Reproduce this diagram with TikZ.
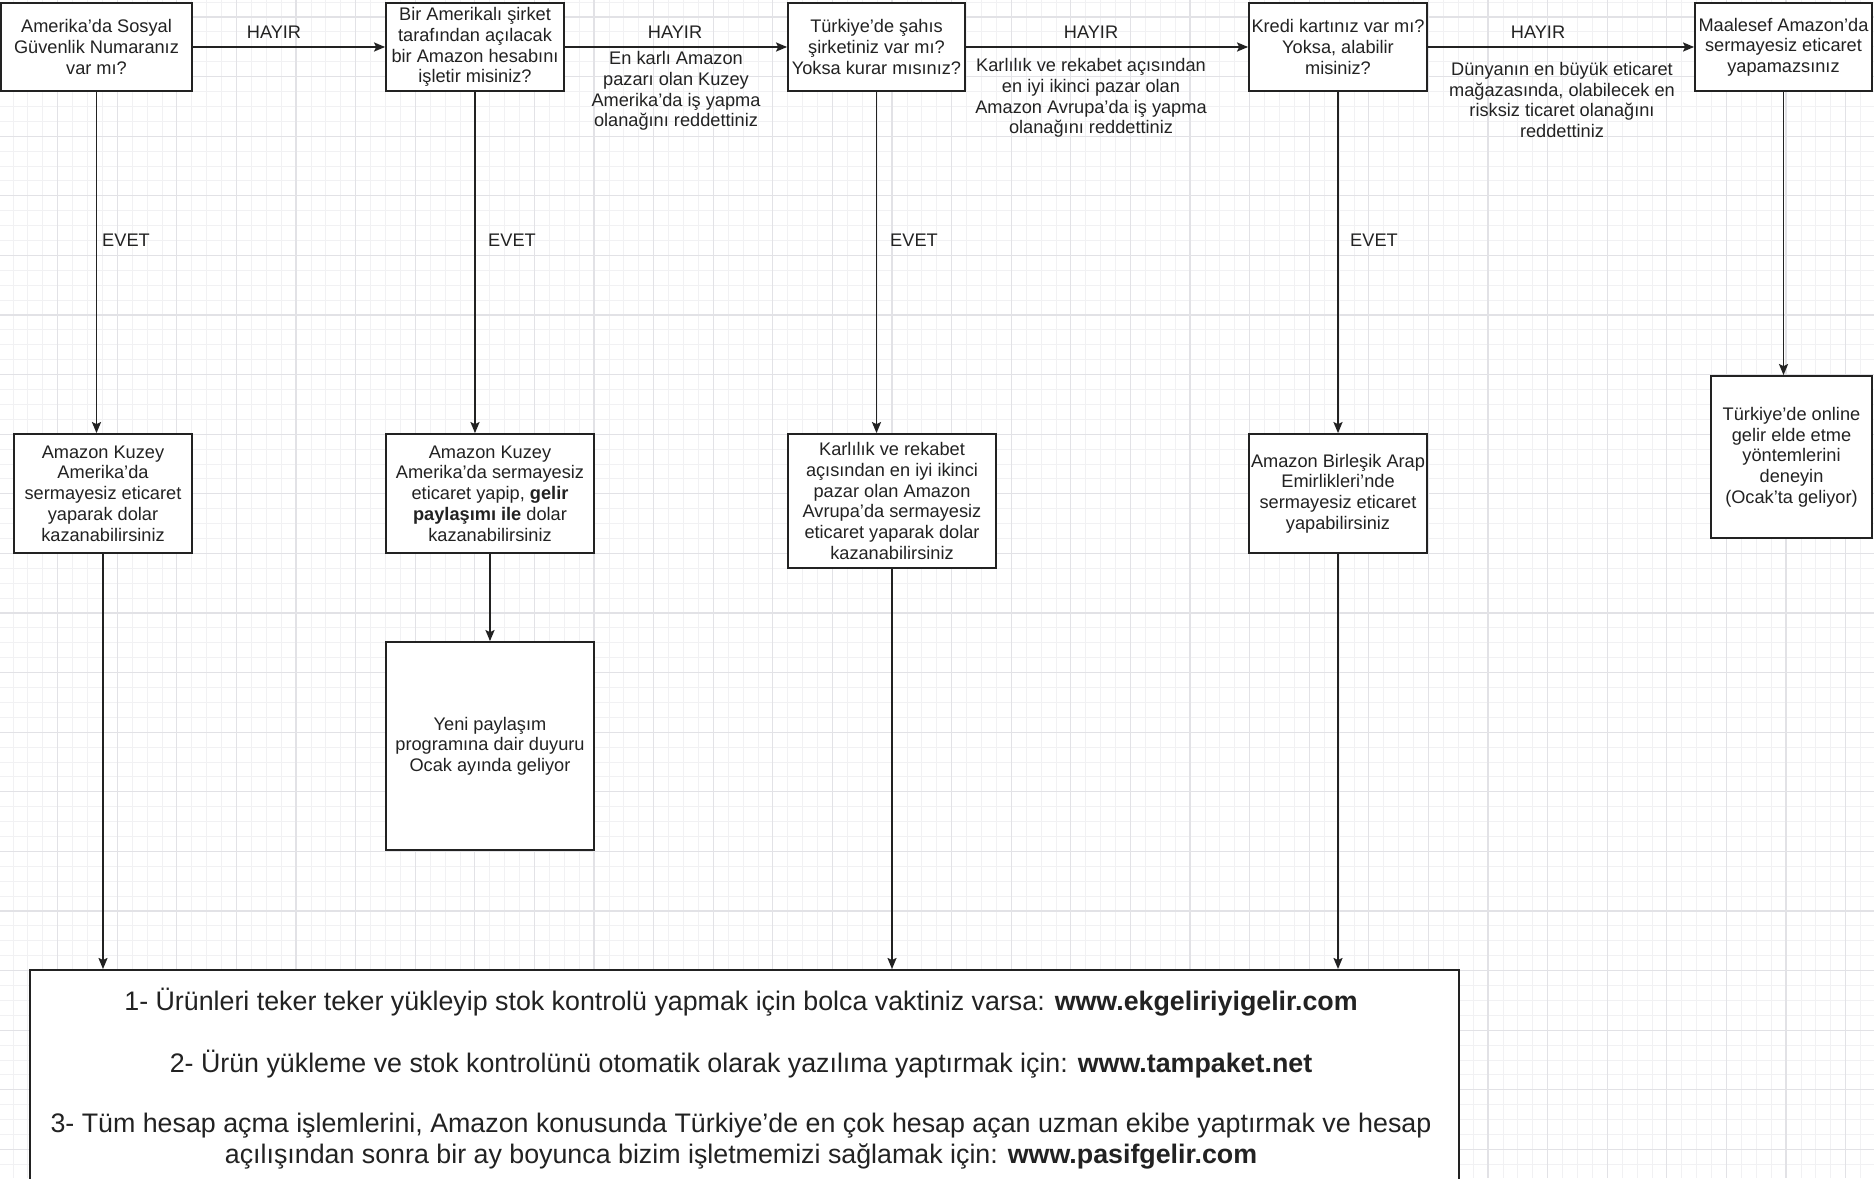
\documentclass[tikz,border=0pt]{standalone}
\usepackage{fontspec}
\setmainfont{Liberation Sans}
\usetikzlibrary{arrows.meta}
\definecolor{ink}{HTML}{222222}
\definecolor{gridmaj}{HTML}{E2E2E6}
\definecolor{gridmin}{HTML}{F1F1F3}
\tikzset{
 box/.style={draw=ink, line width=1.8pt, fill=white, inner sep=0pt, align=center, text=ink, font=\fontsize{18.2}{20.7}\selectfont},
 lbl/.style={inner sep=0pt, align=center, text=ink, font=\fontsize{18.2}{20.7}\selectfont},
 big/.style={inner sep=0pt, align=center, text=ink, font=\fontsize{26.8}{31}\selectfont},
 conn/.style={draw=ink, line width=1.8pt, -{Stealth[length=11pt,width=9pt,inset=2pt]}},
 gmaj/.style={draw=gridmaj, line width=1.2pt},
 gmin/.style={draw=gridmin, line width=0.8pt},
}
\begin{document}
\begin{tikzpicture}[x=1pt,y=-1pt]
\useasboundingbox (0,0) rectangle (1874,1178);
\clip (0,0) rectangle (1874,1178);
\fill[white] (0,0) rectangle (1874,1178);
\foreach \i in {0,...,126} \draw[gmin] ({-2+\i*14.9},0) -- ({-2+\i*14.9},1178);
\foreach \i in {0,...,80} \draw[gmin] (0,{2+\i*14.9}) -- (1874,{2+\i*14.9});
\foreach \i in {0,...,32} \draw[gmaj] ({-2+\i*59.6},0) -- ({-2+\i*59.6},1178);
\foreach \i in {0,...,20} \draw[gmaj] (0,{17+\i*59.6}) -- (1874,{17+\i*59.6});

% top row
\node[box, minimum width=191pt, minimum height=88pt] (B1) at (96.5,47) {Amerika'da Sosyal\\Güvenlik Numaranız\\var mı?};
\node[box, minimum width=178pt, minimum height=88pt] (B2) at (475,47) {Bir Amerikalı şirket\\tarafından açılacak\\bir Amazon hesabını\\işletir misiniz?};
\node[box, minimum width=177pt, minimum height=88pt] (B3) at (876.5,47) {Türkiye'de şahıs\\şirketiniz var mı?\\Yoksa kurar mısınız?};
\node[box, minimum width=178pt, minimum height=88pt] (B4) at (1338,47) {Kredi kartınız var mı?\\Yoksa, alabilir\\misiniz?};
\node[box, minimum width=177pt, minimum height=88pt] (B5) at (1783.5,47) {Maalesef Amazon'da\\sermayesiz eticaret\\yapamazsınız};

% second row
\node[box, minimum width=178pt, minimum height=119pt] (C1) at (103,493.5) {Amazon Kuzey\\Amerika'da\\sermayesiz eticaret\\yaparak dolar\\kazanabilirsiniz};
\node[box, minimum width=208pt, minimum height=119pt] (C2) at (490,493.5) {Amazon Kuzey\\Amerika'da sermayesiz\\eticaret yapip, \textbf{gelir}\\\textbf{paylaşımı ile} dolar\\kazanabilirsiniz};
\node[box, minimum width=208pt, minimum height=134pt] (C3) at (892,501) {Karlılık ve rekabet\\açısından en iyi ikinci\\pazar olan Amazon\\Avrupa'da sermayesiz\\eticaret yaparak dolar\\kazanabilirsiniz};
\node[box, minimum width=178pt, minimum height=119pt] (C4) at (1338,493.5) {Amazon Birleşik Arap\\Emirlikleri'nde\\sermayesiz eticaret\\yapabilirsiniz};
\node[box, minimum width=161pt, minimum height=162pt] (C5) at (1791.5,457) {Türkiye'de online\\gelir elde etme\\yöntemlerini\\deneyin\\(Ocak'ta geliyor)};

\node[box, minimum width=208pt, minimum height=208pt] (D) at (490,746) {Yeni paylaşım\\programına dair duyuru\\Ocak ayında geliyor};

% bottom box
\node[box, minimum width=1429pt, minimum height=300pt, anchor=north west] (BOT) at (29,969) {};
\node[big] (T1) at (741,1002) {1- Ürünleri teker teker yükleyip stok kontrolü yapmak için bolca vaktiniz varsa: \textbf{www.ekgeliriyigelir.com}};
\node[big] (T2) at (741,1064) {2- Ürün yükleme ve stok kontrolünü otomatik olarak yazılıma yaptırmak için: \textbf{www.tampaket.net}};
\node[big] (T3) at (741,1141.5) {3- Tüm hesap açma işlemlerini, Amazon konusunda Türkiye'de en çok hesap açan uzman ekibe yaptırmak ve hesap\\açılışından sonra bir ay boyunca bizim işletmemizi sağlamak için: \textbf{www.pasifgelir.com}};

% horizontal connectors
\draw[conn] (B1.east) -- (B2.west);
\draw[conn] (B2.east) -- (B3.west);
\draw[conn] (B3.east) -- (B4.west);
\draw[conn] (B4.east) -- (B5.west);

\node[lbl] (H1) at (274,32) {HAYIR};
\node[lbl] (H2) at (675,32) {HAYIR};
\node[lbl] (H3) at (1091,32) {HAYIR};
\node[lbl] (H4) at (1538,32) {HAYIR};

\node[lbl] (E1) at (676,91) {En karlı Amazon\\pazarı olan Kuzey\\Amerika'da iş yapma\\olanağını reddettiniz};
\node[lbl] (E2) at (1091,98) {Karlılık ve rekabet açısından\\en iyi ikinci pazar olan\\Amazon Avrupa'da iş yapma\\olanağını reddettiniz};
\node[lbl] (E3) at (1562,100) {Dünyanın en büyük eticaret\\mağazasında, olabilecek en\\risksiz ticaret olanağını\\reddettiniz};

% vertical connectors
\draw[conn] (B1.south) -- (B1.south |- C1.north);
\draw[conn] (B2.south) -- (B2.south |- C2.north);
\draw[conn] (B3.south) -- (B3.south |- C3.north);
\draw[conn] (B4.south) -- (B4.south |- C4.north);
\draw[conn] (B5.south) -- (B5.south |- C5.north);

\node[lbl] (V1) at (126,240) {EVET};
\node[lbl] (V2) at (512,240) {EVET};
\node[lbl] (V3) at (914,240) {EVET};
\node[lbl] (V4) at (1374,240) {EVET};

\draw[conn] (C1.south) -- (C1.south |- BOT.north);
\draw[conn] (C2.south) -- (D.north);
\draw[conn] (C3.south) -- (C3.south |- BOT.north);
\draw[conn] (C4.south) -- (C4.south |- BOT.north);
\end{tikzpicture}
\end{document}
